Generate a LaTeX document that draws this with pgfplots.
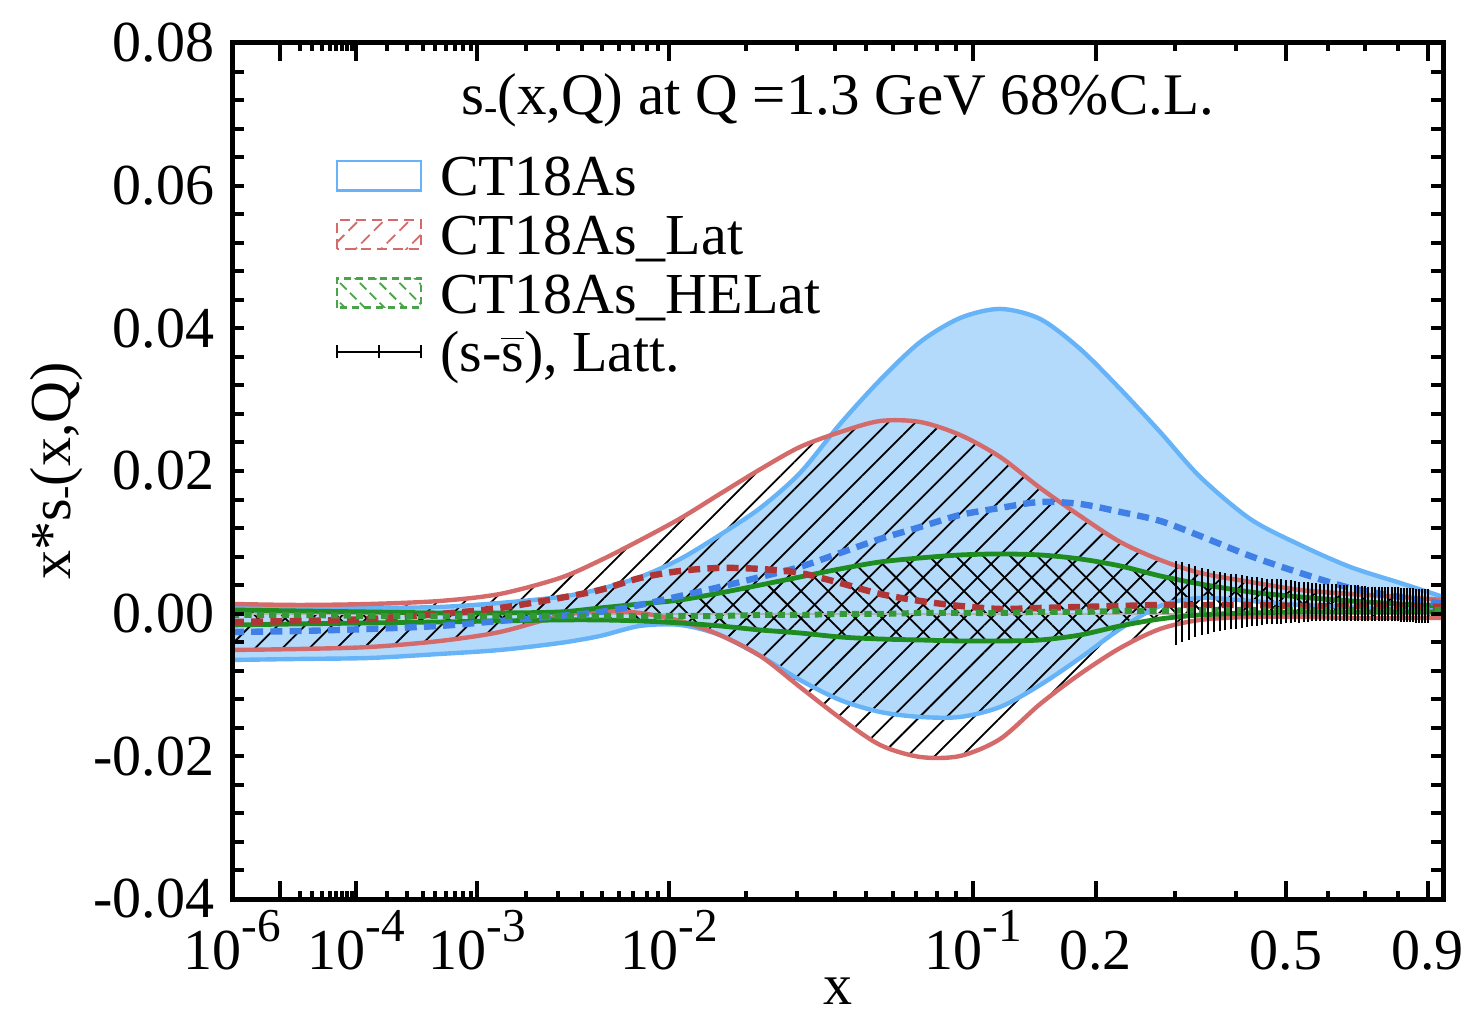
\documentclass[border=0pt]{standalone}
\usepackage{fontspec}
\setmainfont{Liberation Serif}
\usepackage{pgfplots}
\usepackage{pgfplotstable}
\pgfplotsset{compat=1.18}
\usepgfplotslibrary{fillbetween}
\usetikzlibrary{patterns.meta}

\definecolor{ctblue}{HTML}{66B3F7}
\definecolor{ctfill}{HTML}{B3DAFB}
\definecolor{ctmid}{HTML}{3F7FE6}
\definecolor{latred}{HTML}{D46A6A}
\definecolor{latmid}{HTML}{B03535}
\definecolor{hegreen}{HTML}{1E8C1E}

% 10^n tick label in text font
\newcommand{\tp}[1]{10\raisebox{7bp}{\fontsize{11.8bp}{12bp}\selectfont #1}}
\newcommand{\sminus}{\raisebox{-1.5bp}{\fontsize{10bp}{10bp}\selectfont -}}

% the x axis is linear in x^0.2
\pgfplotsset{table/xpow/.style={x expr=\thisrow{x}^0.2}}

% CT18As
\pgfplotstableread{
x        lo       mid      hi
1e-6    -0.00649 -0.00257 0.00080
2e-5    -0.00635 -0.00243 0.00080
1.37e-4 -0.00621 -0.00214 0.00080
5.45e-4 -0.00565 -0.00172 0.00094
1.39e-3 -0.00509 -0.00102 0.00150
3.07e-3 -0.00411 -0.00032 0.00234
4.89e-3 -0.00313 0.00024 0.00346
7.49e-3 -0.00172 0.00122 0.00514
0.0111  -0.00158 0.00248 0.00767
0.0159  -0.00299 0.00374 0.01103
0.0224  -0.00593 0.00514 0.01482
0.0307  -0.00929 0.00655 0.01972
0.0414  -0.01210 0.00851 0.02659
0.0549  -0.01378 0.01047 0.03276
0.0717  -0.01448 0.01215 0.03809
0.0923  -0.01448 0.01384 0.04145
0.1174  -0.01308 0.01482 0.04272
0.1478  -0.01000 0.01566 0.04131
0.1841  -0.00621 0.01538 0.03711
0.2272  -0.00214 0.01426 0.03150
0.2781  0.00108  0.01300 0.02547
0.3377  0.00220  0.01089 0.01916
0.4261  0.00178  0.00809 0.01328
0.5321  0.00122  0.00571 0.00963
0.6583  0.00094  0.00360 0.00655
0.8073  0.00066  0.00234 0.00430
0.956   0.00052  0.00136 0.00234
}\ctas

% CT18As_Lat
\pgfplotstableread{
x        lo       mid      hi
1e-6    -0.00509 -0.00116 0.00136
2e-5    -0.00495 -0.00102 0.00122
1.37e-4 -0.00467 -0.00074 0.00136
5.45e-4 -0.00383 -0.00004 0.00178
1.39e-3 -0.00257 0.00080 0.00276
3.07e-3 -0.00032 0.00220 0.00500
4.89e-3 0.00038  0.00332 0.00745
7.49e-3 0.00010  0.00500 0.01030
0.0111  -0.00102 0.00599 0.01335
0.0159  -0.00299 0.00641 0.01678
0.0224  -0.00593 0.00627 0.02025
0.0307  -0.01028 0.00571 0.02337
0.0414  -0.01462 0.00430 0.02545
0.0549  -0.01841 0.00276 0.02701
0.0717  -0.02009 0.00178 0.02687
0.0923  -0.01995 0.00108 0.02505
0.1174  -0.01757 0.00066 0.02197
0.1478  -0.01266 0.00080 0.01762
0.1841  -0.00845 0.00094 0.01370
0.2272  -0.00481 0.00108 0.01005
0.2781  -0.00214 0.00122 0.00753
0.3377  -0.00088 0.00122 0.00571
0.4261  -0.00046 0.00122 0.00444
0.5321  -0.00046 0.00108 0.00332
0.6583  -0.00060 0.00108 0.00276
0.8073  -0.00060 0.00108 0.00234
0.956   -0.00060 0.00094 0.00192
}\ctlat

% CT18As_HELat
\pgfplotstableread{
x        lo       mid      hi
1e-6    -0.00158 -0.00018 0.00052
2e-5    -0.00144 -0.00018 0.00038
1.37e-4 -0.00130 -0.00032 0.00024
5.45e-4 -0.00116 -0.00032 0.00010
1.39e-3 -0.00102 -0.00032 0.00010
3.07e-3 -0.00088 -0.00032 0.00024
4.89e-3 -0.00088 -0.00032 0.00080
7.49e-3 -0.00102 -0.00032 0.00136
0.0111  -0.00130 -0.00032 0.00192
0.0159  -0.00172 -0.00032 0.00290
0.0224  -0.00229 -0.00018 0.00402
0.0307  -0.00271 -0.00018 0.00514
0.0414  -0.00327 -0.00004 0.00627
0.0549  -0.00355 -0.00004 0.00725
0.0717  -0.00369 0.00010  0.00781
0.0923  -0.00383 0.00010  0.00823
0.1174  -0.00383 0.00010  0.00837
0.1478  -0.00369 0.00024  0.00823
0.1841  -0.00299 0.00024  0.00767
0.2272  -0.00172 0.00038  0.00669
0.2781  -0.00074 0.00038  0.00529
0.3377  -0.00018 0.00052  0.00416
0.4261  0.00010  0.00052  0.00304
0.5321  0.00024  0.00052  0.00234
0.6583  0.00024  0.00052  0.00178
0.8073  0.00024  0.00052  0.00136
0.956   0.00024  0.00052  0.00108
}\cthel

% (s-sbar) lattice
\pgfplotstableread{
x    c      e
0.30 0.0015 0.0050
0.31 0.0016 0.0047
0.32 0.0016 0.0044
0.33 0.0017 0.0041
0.34 0.0017 0.0038
0.35 0.0017 0.0036
0.36 0.0017 0.0034
0.37 0.0017 0.0032
0.38 0.0017 0.0031
0.39 0.0017 0.0030
0.40 0.0017 0.0029
0.41 0.0017 0.0028
0.42 0.0017 0.0027
0.43 0.0017 0.0026
0.44 0.0017 0.0025
0.45 0.0017 0.0024
0.46 0.0017 0.0023
0.47 0.0017 0.0023
0.48 0.0017 0.0022
0.49 0.0017 0.0022
0.50 0.0017 0.0021
0.51 0.0017 0.0021
0.52 0.0017 0.0020
0.53 0.0016 0.0020
0.54 0.0016 0.0019
0.55 0.0016 0.0019
0.56 0.0016 0.0018
0.57 0.0016 0.0018
0.58 0.0016 0.0017
0.59 0.0016 0.0017
0.60 0.0016 0.0017
0.61 0.0015 0.0017
0.62 0.0015 0.0017
0.63 0.0015 0.0016
0.64 0.0015 0.0016
0.65 0.0015 0.0016
0.66 0.0015 0.0016
0.67 0.0015 0.0016
0.68 0.0015 0.0016
0.69 0.0014 0.0016
0.70 0.0014 0.0016
0.71 0.0014 0.0015
0.72 0.0014 0.0015
0.73 0.0014 0.0015
0.74 0.0014 0.0015
0.75 0.0013 0.0015
0.76 0.0013 0.0015
0.77 0.0013 0.0015
0.78 0.0013 0.0015
0.79 0.0013 0.0015
0.80 0.0013 0.0015
0.81 0.0012 0.0015
0.82 0.0012 0.0015
0.83 0.0012 0.0015
0.84 0.0012 0.0015
0.85 0.0012 0.0015
0.86 0.0011 0.0015
0.87 0.0011 0.0015
0.88 0.0011 0.0015
0.89 0.0011 0.0015
0.90 0.0011 0.0015
}\latt

\begin{document}
\begin{tikzpicture}[font=\fontsize{14.5bp}{17bp}\selectfont]
% page frame, all content lies inside it
\path (-58bp,-28.25bp) rectangle (309.5bp,224.75bp);
\begin{axis}[
    scale only axis, width=302.75bp, height=214bp,
    at={(0,0)}, anchor=south west,
    % x positions below are x^0.2
    xmin=0.063096, xmax=0.99104, ymin=-0.04, ymax=0.08,
    xtick={0.063096,0.1,0.158489,0.251189,0.398107,0.630957,0.724780,0.870551,0.979148},
    xticklabels={\tp{-6},,\tp{-4},\tp{-3},\tp{-2},\tp{-1},0.2,0.5,0.9},
    minor xtick={0.114870,0.124573,0.131951,0.137973,0.143097,0.147577,0.151572,0.155185,
        0.182056,0.197435,0.209128,0.218672,0.226793,0.233894,0.240225,0.245951,
        0.288540,0.312914,0.331445,0.346572,0.359443,0.370697,0.380731,0.389806,
        0.457305,0.495934,0.525306,0.549280,0.569679,0.587515,0.603417,0.617800,
        0.786003,0.832553,0.902880,0.931149,0.956352},
    ytick={-0.04,-0.02,0,0.02,0.04,0.06,0.08},
    yticklabels={-0.04,-0.02,0.00,0.02,0.04,0.06,0.08},
    scaled y ticks=false, scaled x ticks=false,
    minor y tick num=4,
    major tick length=4.5bp, minor tick length=2bp,
    ytick style={/pgfplots/major tick length=3bp, /pgfplots/minor tick length=3bp},
    tick style={black, line width=1bp},
    axis line style={line width=1.25bp},
    axis on top,
    xticklabel style={anchor=base, yshift=-17.5bp, inner sep=0pt},
    yticklabel style={anchor=east, xshift=-4.25bp, inner sep=0pt},
    xlabel={x},
    xlabel style={at={(axis description cs:0.5,-0.1238)}, anchor=base, inner sep=0pt},
    ylabel={x*s\sminus(x,Q)},
    ylabel style={at={(axis description cs:-0.133,0.5)}, anchor=base, inner sep=0pt},
    title={s\sminus(x,Q) at Q =1.3 GeV 68\%C.L.},
    every axis title shift=0pt,
    title style={at={(axis description cs:0.5,0.9159)}, anchor=base, yshift=0pt, inner sep=0pt,
        font=\fontsize{14.75bp}{17bp}\selectfont},
    legend cell align=left,
    legend style={at={(axis description cs:0.0851,0.8785)}, anchor=north west,
        draw=none, fill=none, inner sep=0pt, row sep=0.65bp, column sep=4.5bp,
        nodes={inner sep=0pt, text height=12bp, text depth=2bp}},
]
% legend
\addlegendimage{legend image code/.code={\draw[ctblue, line width=0.6bp, fill=white] (0bp,-3.65bp) rectangle (21bp,3.65bp);}}
\addlegendentry{CT18As}
\addlegendimage{legend image code/.code={\draw[latred, line width=0.6bp, dash pattern=on 2.5bp off 1.5bp,
    pattern={Lines[angle=45,distance=4.5bp,line width=0.45bp]}, pattern color=latred] (0bp,-3.65bp) rectangle (21bp,3.65bp);}}
\addlegendentry{CT18As\_Lat}
\addlegendimage{legend image code/.code={\draw[hegreen!80, line width=0.6bp, dash pattern=on 1.8bp off 1.2bp,
    pattern={Lines[angle=-45,distance=3.5bp,line width=0.45bp]}, pattern color=hegreen!80] (0bp,-3.65bp) rectangle (21bp,3.65bp);}}
\addlegendentry{CT18As\_HELat}
\addlegendimage{legend image code/.code={\draw[black, line width=0.5bp] (0bp,0bp) -- (21bp,0bp)
    (0bp,-1.6bp) -- (0bp,1.6bp) (10.5bp,-1.6bp) -- (10.5bp,1.6bp) (21bp,-1.6bp) -- (21bp,1.6bp);}}
\addlegendentry{(s-$\overline{\mbox{s}}$), Latt.}

% band edges (invisible, for the fills)
\addplot[draw=none, smooth, name path=bhi, forget plot] table[xpow, y=hi]{\ctas};
\addplot[draw=none, smooth, name path=blo, forget plot] table[xpow, y=lo]{\ctas};
\addplot[draw=none, smooth, name path=rhi, forget plot] table[xpow, y=hi]{\ctlat};
\addplot[draw=none, smooth, name path=rlo, forget plot] table[xpow, y=lo]{\ctlat};
\addplot[draw=none, smooth, name path=ghi, forget plot] table[xpow, y=hi]{\cthel};
\addplot[draw=none, smooth, name path=glo, forget plot] table[xpow, y=lo]{\cthel};

\addplot[fill=ctfill, draw=none, forget plot] fill between[of=bhi and blo];
\addplot[pattern={Lines[angle=45,distance=4.8bp,line width=0.45bp]}, pattern color=black, draw=none, forget plot] fill between[of=rhi and rlo];
\addplot[pattern={Lines[angle=-45,distance=4.8bp,line width=0.45bp]}, pattern color=black, draw=none, forget plot] fill between[of=ghi and glo];

% zero line
\addplot[gray!60, line width=0.5bp, forget plot] coordinates {(0.063096,0) (0.99104,0)};

% band borders
\addplot[ctblue, line width=1.1bp, smooth, forget plot] table[xpow, y=hi]{\ctas};
\addplot[ctblue, line width=1.1bp, smooth, forget plot] table[xpow, y=lo]{\ctas};
\addplot[latred, line width=1.1bp, smooth, forget plot] table[xpow, y=hi]{\ctlat};
\addplot[latred, line width=1.1bp, smooth, forget plot] table[xpow, y=lo]{\ctlat};
\addplot[hegreen, line width=1.2bp, smooth, forget plot] table[xpow, y=hi]{\cthel};
\addplot[hegreen, line width=1.2bp, smooth, forget plot] table[xpow, y=lo]{\cthel};

% central values
\addplot[ctmid, line width=1.6bp, dash pattern=on 3bp off 1.8bp, smooth, forget plot] table[xpow, y=mid]{\ctas};
\addplot[latmid, line width=1.6bp, dash pattern=on 3bp off 1.8bp, smooth, forget plot] table[xpow, y=mid]{\ctlat};
\addplot[hegreen!90, line width=1.5bp, dash pattern=on 1.8bp off 1.3bp, smooth, forget plot] table[xpow, y=mid]{\cthel};

% lattice (s-sbar)
\addplot[draw=none, mark=none, forget plot,
    error bars/.cd, y dir=both, y explicit,
    error bar style={draw=black, solid, line width=0.5bp},
    error mark options={draw=black, solid, mark size=1.6bp, line width=0.5bp}]
    table[xpow, y=c, y error=e]{\latt};
\end{axis}
\end{tikzpicture}
\end{document}
